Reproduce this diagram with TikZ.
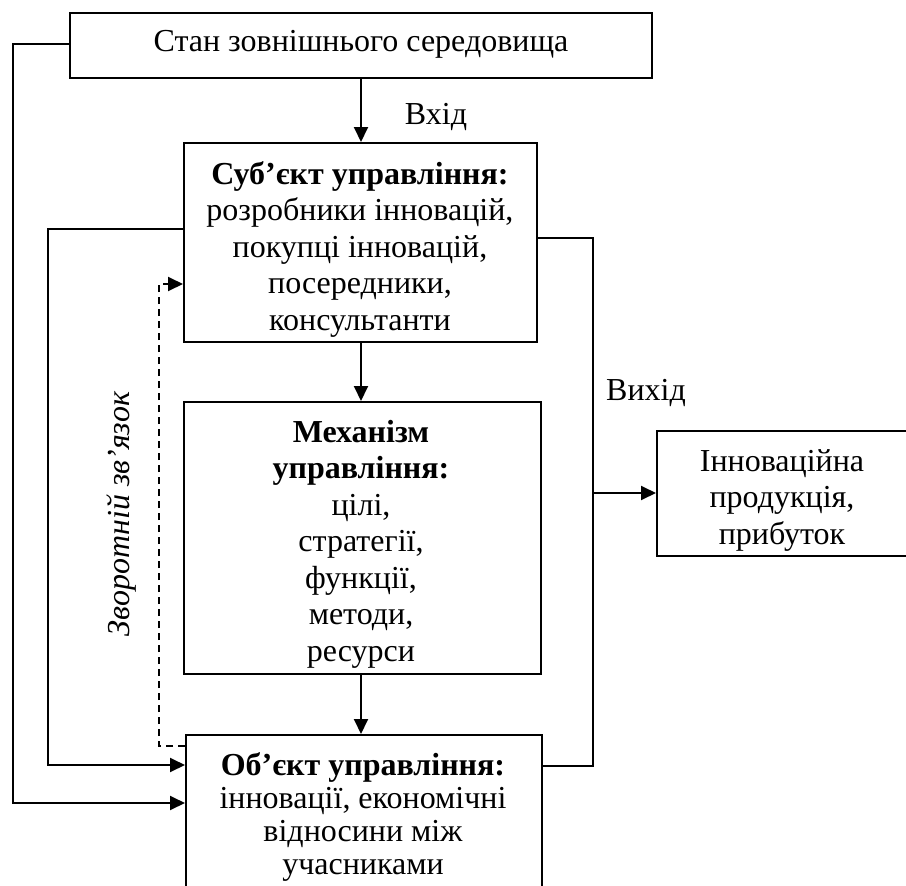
\documentclass[tikz,border=0pt]{standalone}
\usepackage{fontspec}
\setmainfont{Liberation Serif}
\usetikzlibrary{arrows.meta}
\begin{document}
\begin{tikzpicture}[x=1pt,y=-1pt,
  box/.style={draw,line width=2pt,inner sep=0pt,anchor=north west},
  txt/.style={align=center,inner sep=0pt,font=\fontsize{32}{36.5}\selectfont},
  conn/.style={line width=1.9pt},
  arr/.style={conn,-{Triangle[length=15pt,width=14pt]}},
  fb/.style={arr,dash pattern=on 7pt off 5pt}]
\useasboundingbox (0,0) rectangle (906,886);
\begin{scope}
\clip (0,0) rectangle (906,886);
% boxes
\node[box,minimum width=582pt,minimum height=65pt] (env) at (69,12) {};
\node[box,minimum width=353pt,minimum height=199pt] (sub) at (183,142) {};
\node[box,minimum width=357pt,minimum height=272pt] (mech) at (183,401) {};
\node[box,minimum width=356pt,minimum height=180pt] (obj) at (185,734) {};
\node[box,minimum width=260pt,minimum height=125pt] (inn) at (656,430) {};
% texts
\node[txt] (envt) at (361,44) {Стан зовнішнього середовища};
\node[txt] (subt) at (360,249) {\textbf{Суб’єкт управління:}\\розробники інновацій,\\покупці інновацій,\\посередники,\\консультанти};
\node[txt] (mecht) at (361,544) {\textbf{Механізм}\\\textbf{управління:}\\цілі,\\стратегії,\\функції,\\методи,\\ресурси};
\node[txt,font=\fontsize{32}{33}\selectfont] (objt) at (363,817) {\textbf{Об’єкт управління:}\\інновації, економічні\\відносини між\\учасниками};
\node[txt] (innt) at (782,500) {Інноваційна\\продукція,\\прибуток};
\node[txt] (in) at (436,117) {Вхід};
\node[txt] (out) at (646,393) {Вихід};
\node[txt,font=\itshape\fontsize{32}{36}\selectfont,rotate=90] (fbt) at (122,514) {Зворотній зв'язок};
% coordinates
\coordinate (A1) at (13,44);
\coordinate (A2) at (0,803);
\coordinate (B1) at (48,229);
\coordinate (B2) at (0,765);
\coordinate (C1) at (159,746);
\coordinate (C2) at (0,284);
\coordinate (D1) at (593,238);
\coordinate (D2) at (0,766);
\coordinate (E1) at (593,493);
% connectors
\draw[arr] (env.south -| 361,0) -- (sub.north -| 361,0);
\draw[arr] (sub.south -| 361,0) -- (mech.north -| 361,0);
\draw[arr] (mech.south -| 361,0) -- (obj.north -| 361,0);
\draw[arr] (env.west |- A1) -- (A1) |- (obj.west |- A2);
\draw[arr] (sub.west |- B1) -- (B1) |- (obj.west |- B2);
\draw[fb] (obj.west |- C1) -- (C1) |- (sub.west |- C2);
\draw[conn] (sub.east |- D1) -- (D1) |- (obj.east |- D2);
\draw[arr] (E1) -- (inn.west |- E1);
\end{scope}
\end{tikzpicture}
\end{document}
